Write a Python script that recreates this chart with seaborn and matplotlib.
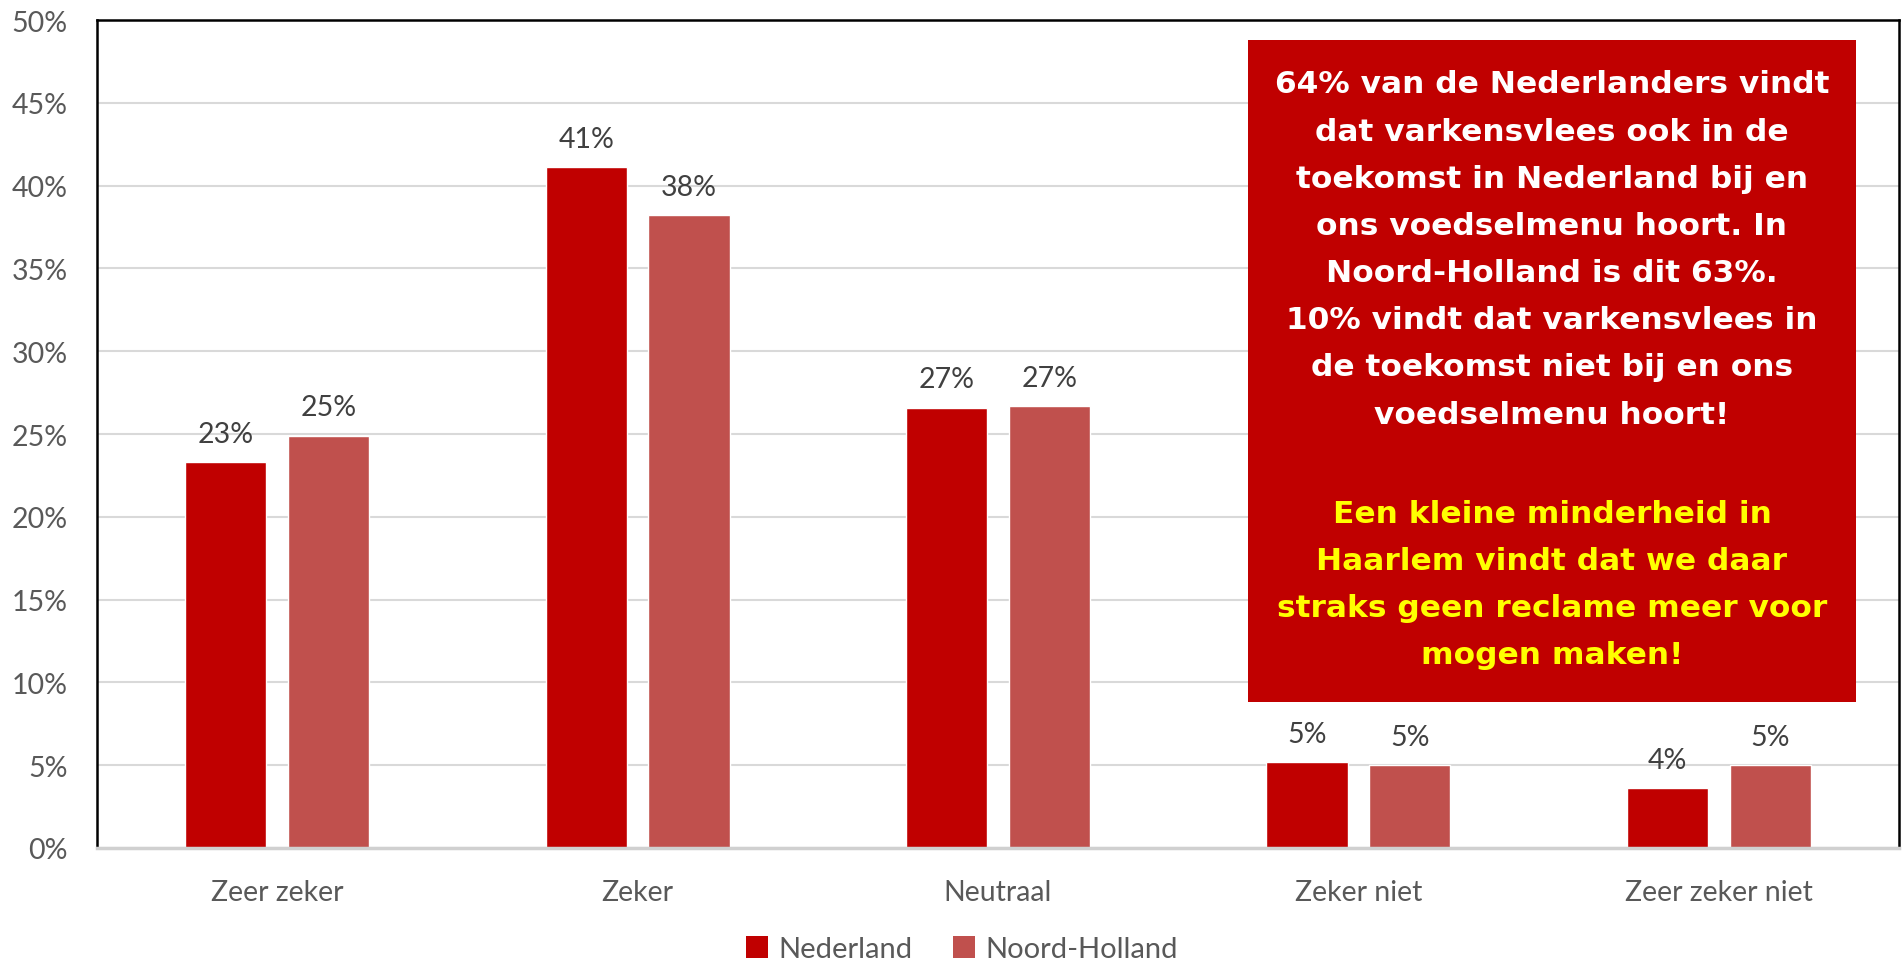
import matplotlib
matplotlib.use("Agg")
import matplotlib.pyplot as plt
import seaborn as sns
import pandas as pd
from matplotlib.patches import Patch, Rectangle

categories = ["Zeer zeker", "Zeker", "Neutraal", "Zeker niet", "Zeer zeker niet"]
nederland = [23.3, 41.1, 26.6, 5.2, 3.6]
noord_holland = [24.9, 38.2, 26.7, 5.0, 5.0]
series = ["Nederland", "Noord-Holland"]
colors = ["#C00000", "#C0504D"]
yticks = [0, 5, 10, 15, 20, 25, 30, 35, 40, 45, 50]

box_white = ("64% van de Nederlanders vindt\n"
             "dat varkensvlees ook in de\n"
             "toekomst in Nederland bij en\n"
             "ons voedselmenu hoort. In\n"
             "Noord-Holland is dit 63%.\n"
             "10% vindt dat varkensvlees in\n"
             "de toekomst niet bij en ons\n"
             "voedselmenu hoort!")
box_yellow = ("Een kleine minderheid in\n"
              "Haarlem vindt dat we daar\n"
              "straks geen reclame meer voor\n"
              "mogen maken!")

df = pd.DataFrame({
    "cat": categories * 2,
    "val": nederland + noord_holland,
    "reeks": [series[0]] * len(categories) + [series[1]] * len(categories),
})

sns.set_theme(style="white")
plt.rcParams["font.family"] = ["Lato", "DejaVu Sans"]

W, H = 1904, 962
L, R, T, B = 97, 1899, 21, 849
fig = plt.figure(figsize=(W / 100, H / 100), dpi=100)
ax = fig.add_axes([L / W, 1 - B / H, (R - L) / W, (B - T) / H])

sns.barplot(data=df, x="cat", y="val", hue="reeks", palette=colors, ax=ax,
            width=0.57, gap=0.21, legend=False, saturation=1)

ax.set_ylim(0, 50)
ax.set_xlim(-0.5, len(categories) - 0.5)
ax.set_yticks(yticks)
ax.set_yticklabels([f"{t}%" for t in yticks])
ax.yaxis.grid(True, color="#D9D9D9", linewidth=1.5)
ax.set_axisbelow(True)
ax.set_xlabel("")
ax.set_ylabel("")
ax.tick_params(axis="y", labelsize=20.5, labelcolor="#595959", pad=21, length=0)
ax.tick_params(axis="x", labelsize=20.5, labelcolor="#595959", pad=22, length=0)

for s in ["left", "top", "right"]:
    ax.spines[s].set_color("black")
    ax.spines[s].set_linewidth(1.8)
ax.spines["bottom"].set_color("#D0D0D0")
ax.spines["bottom"].set_linewidth(2.5)

for cont in ax.containers:
    for bar in cont:
        h = bar.get_height()
        ax.annotate(f"{h:.0f}%", (bar.get_x() + bar.get_width() / 2, h),
                    xytext=(0, 11), textcoords="offset points",
                    ha="center", va="bottom", fontsize=20.5, color="#404040")

# annotation box (axes-fraction coordinates)
bx0, bx1, by_top, by_bot = 1248, 1856, 41, 703
x0, x1 = (bx0 - L) / (R - L), (bx1 - L) / (R - L)
y0, y1 = (B - by_bot) / (B - T), (B - by_top) / (B - T)
ax.add_patch(Rectangle((x0, y0), x1 - x0, y1 - y0, transform=ax.transAxes,
                       facecolor="#C00000", edgecolor="none", zorder=5))
xc = (x0 + x1) / 2
ax.text(xc, (B - 250) / (B - T), box_white, transform=ax.transAxes, ha="center", va="center",
        color="white", fontsize=22.5, fontweight="bold", family="DejaVu Sans",
        linespacing=1.79, zorder=6)
ax.text(xc, (B - 585) / (B - T), box_yellow, transform=ax.transAxes, ha="center", va="center",
        color="#FFFF00", fontsize=22.5, fontweight="bold", family="DejaVu Sans",
        linespacing=1.79, zorder=6)

handles = [Patch(facecolor=c, edgecolor="none", label=l) for c, l in zip(colors, series)]
fig.legend(handles=handles, loc="center", bbox_to_anchor=(962 / W, 1 - 950 / H),
           ncol=2, frameon=False, fontsize=21, labelcolor="#595959",
           handlelength=0.75, handleheight=0.75, handletextpad=0.35, columnspacing=1.4)

fig.savefig("out.png", dpi=100)
